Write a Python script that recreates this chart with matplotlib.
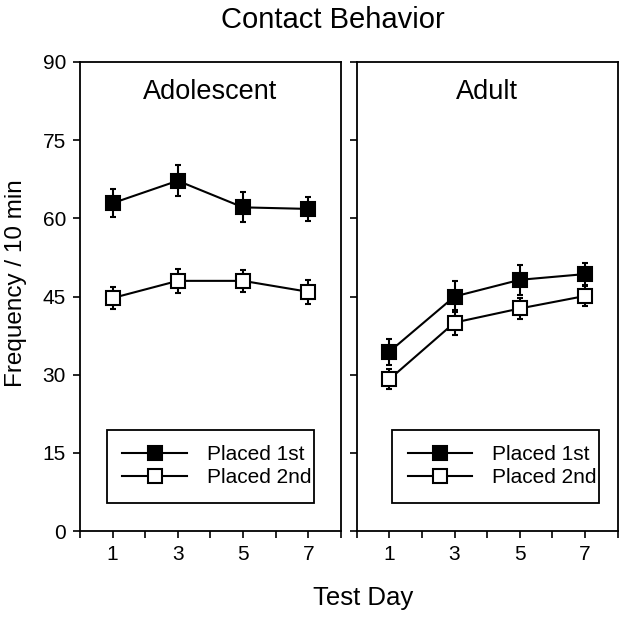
import matplotlib
matplotlib.use("Agg")
import matplotlib.pyplot as plt
from matplotlib.lines import Line2D

plt.rcParams["font.family"] = ["Liberation Sans", "DejaVu Sans"]

# Data
days = [1, 3, 5, 7]

adol_first = [62.9, 67.2, 62.1, 61.8]
adol_first_err = [2.7, 3.0, 2.9, 2.3]
adol_second = [44.7, 48.0, 48.0, 45.9]
adol_second_err = [2.1, 2.3, 2.1, 2.3]

adult_first = [34.4, 45.0, 48.2, 49.3]
adult_first_err = [2.5, 3.0, 2.9, 2.1]
adult_second = [29.1, 40.0, 42.7, 45.1]
adult_second_err = [1.9, 2.4, 2.1, 2.0]

panels = [
    ("Adolescent", adol_first, adol_first_err, adol_second, adol_second_err, 0.103),
    ("Adult", adult_first, adult_first_err, adult_second, adult_second_err, 0.135),
]

fig = plt.figure(figsize=(6.29, 6.19), dpi=100)
ax_left = fig.add_axes([0.127, 0.142, 0.415, 0.758])
ax_right = fig.add_axes([0.567, 0.142, 0.415, 0.758])

for ax, (name, first, first_err, second, second_err, lx) in zip([ax_left, ax_right], panels):
    ax.errorbar(days, first, yerr=first_err, color="black", lw=1.5,
                marker="s", ms=10, mfc="black", mec="black", mew=1.5,
                capsize=2.5, capthick=1.5, elinewidth=1.5, zorder=3)
    ax.errorbar(days, second, yerr=second_err, color="black", lw=1.5,
                marker="s", ms=10, mfc="white", mec="black", mew=1.5,
                capsize=2.5, capthick=1.5, elinewidth=1.5, zorder=3)

    ax.set_xlim(0, 8)
    ax.set_ylim(0, 90)
    ax.set_xticks(range(0, 9))
    ax.set_xticklabels(["", "1", "", "3", "", "5", "", "7", ""])
    ax.set_yticks(range(0, 91, 15))
    ax.tick_params(direction="out", length=5, width=1.2, labelsize=15, pad=5)
    for sp in ax.spines.values():
        sp.set_linewidth(1.3)

    ax.text(0.5, 0.935, name, transform=ax.transAxes, ha="center", va="center", fontsize=19.5)

    handles = [
        Line2D([], [], color="black", lw=1.5, marker="s", ms=10, mfc="black", mec="black", mew=1.5),
        Line2D([], [], color="black", lw=1.5, marker="s", ms=10, mfc="white", mec="black", mew=1.5),
    ]
    leg = ax.legend(handles, ["Placed 1st", "Placed 2nd"], loc="lower left",
                    bbox_to_anchor=(lx, 0.06, 0.793, 0.16),
                    mode="expand", fontsize=15, frameon=True, fancybox=False,
                    edgecolor="black", framealpha=1, handlelength=3.1,
                    handletextpad=0.95, labelspacing=0.2, borderpad=0.75,
                    borderaxespad=0)
    leg.get_frame().set_linewidth(1.3)

ax_right.set_yticklabels([])

fig.text(0.529, 0.954, "Contact Behavior", ha="center", va="baseline", fontsize=21)
fig.text(0.025, 0.543, "Frequency / 10 min", ha="center", va="center",
         rotation=90, fontsize=17.5)
fig.text(0.577, 0.0226, "Test Day", ha="center", va="baseline", fontsize=18.5)

fig.savefig("out.png", dpi=100)
